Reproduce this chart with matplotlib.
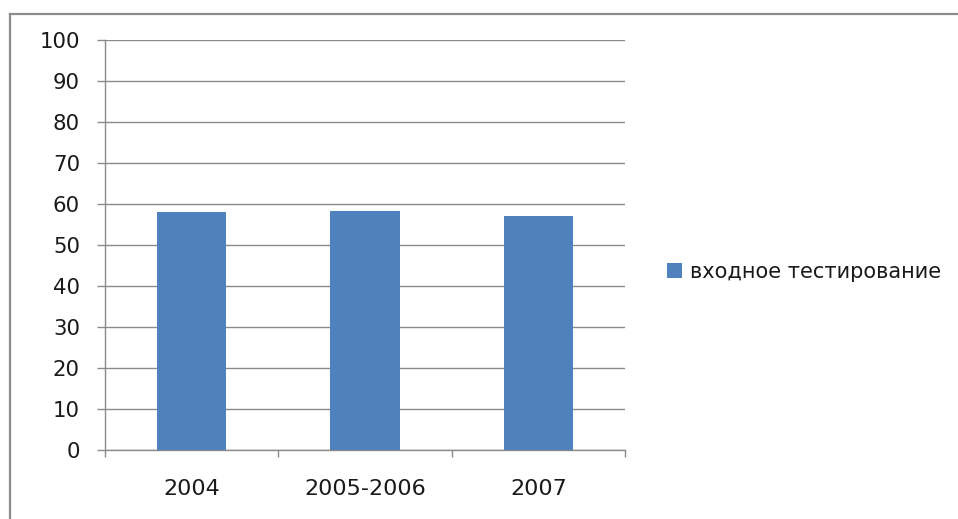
import matplotlib
matplotlib.use("Agg")
import matplotlib.pyplot as plt
from matplotlib.lines import Line2D
import numpy as np

categories = ["2004", "2005-2006", "2007"]
values = [58.0, 58.2, 57.0]
series_name = "входное тестирование"
y_ticks = list(range(0, 101, 10))

plt.rcParams["font.family"] = ["DejaVu Sans"]

W, H = 958, 519
fig = plt.figure(figsize=(W / 100, H / 100), dpi=100)
fig.patch.set_facecolor("white")

ax = fig.add_axes([105 / W, 1 - 450 / H, (625 - 105) / W, (450 - 40) / H])

x = np.arange(len(categories))
bars = ax.bar(x, values, width=0.4, color="#4F81BD", label=series_name, zorder=3)

grid_color = "#8a8a8a"
ax.set_xlim(-0.5, len(categories) - 0.5)
ax.set_ylim(0, 100)
ax.set_yticks(y_ticks)
ax.yaxis.grid(True, color=grid_color, linewidth=1.0, zorder=0)
ax.set_axisbelow(True)

for side in ("top", "right"):
    ax.spines[side].set_visible(False)
for side in ("left", "bottom"):
    ax.spines[side].set_color(grid_color)
    ax.spines[side].set_linewidth(1.0)

ax.tick_params(axis="y", direction="out", length=6, width=1.0, color=grid_color,
               pad=12, labelsize=15.3, labelcolor="#1a1a1a")

ax.set_xticks(x)
ax.set_xticklabels(categories)
ax.tick_params(axis="x", which="major", length=0, pad=21, labelsize=16,
               labelcolor="#1a1a1a")
ax.set_xticks(np.arange(-0.5, len(categories)), minor=True)
ax.tick_params(axis="x", which="minor", direction="out", length=5, width=1.0,
               color=grid_color)

leg = fig.legend(handles=[bars], labels=[series_name], loc="center left",
                 bbox_to_anchor=(667 / W, 1 - 272 / H), frameon=False,
                 fontsize=15, handlelength=0.72, handleheight=0.72,
                 handletextpad=0.4, borderpad=0, borderaxespad=0)
for t in leg.get_texts():
    t.set_color("#1a1a1a")

# Chart frame (top and left edges)
frame_kw = dict(color="#8c8c8c", linewidth=1.6, transform=fig.transFigure)
fig.add_artist(Line2D([10 / W, 1.0], [1 - 14 / H, 1 - 14 / H], **frame_kw))
fig.add_artist(Line2D([10 / W, 10 / W], [1 - 14 / H, 0.0], **frame_kw))

fig.savefig("out.png", dpi=100, facecolor="white")
